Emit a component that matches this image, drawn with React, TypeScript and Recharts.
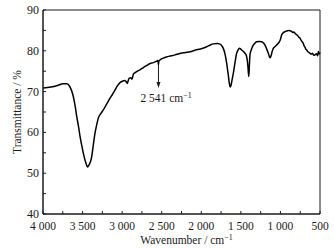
import React from 'react';
import { LineChart, Line, XAxis, YAxis, ReferenceArea, ReferenceLine, Label } from 'recharts';

// FT-IR spectrum
const wavenumbers = [
  4000, 3900, 3800, 3750, 3700, 3670, 3640, 3617, 3590, 3574, 3550, 3532, 3500, 3469, 3445, 3435,
  3420, 3400, 3385, 3365, 3343, 3320, 3301, 3270, 3238, 3200, 3153, 3120, 3090, 3060, 3027, 2990,
  2964, 2945, 2935, 2925, 2910, 2890, 2875, 2858, 2840, 2816, 2770, 2732, 2690, 2648, 2606, 2570,
  2550, 2545, 2541, 2537, 2520, 2480, 2440, 2395, 2330, 2280, 2227, 2160, 2101, 2050, 2000, 1932,
  1880, 1848, 1800, 1770, 1740, 1722, 1700, 1679, 1660, 1645, 1635, 1625, 1610, 1595, 1575, 1553,
  1535, 1519, 1505, 1490, 1470, 1448, 1430, 1419, 1410, 1400, 1392, 1385, 1376, 1360, 1343, 1320,
  1301, 1270, 1237, 1215, 1195, 1175, 1153, 1140, 1130, 1118, 1105, 1090, 1070, 1048, 1030, 1014,
  1000, 984, 965, 942, 910, 890, 879, 860, 845, 830, 816, 800, 785, 770, 753, 740,
  725, 711, 700, 690, 680, 668, 655, 640, 626, 610, 595, 580, 563, 545, 530, 521,
  510, 500,
];
const transmittance = [
  70.9, 71.1, 71.6, 71.9, 71.9, 71.5, 70.3, 68.8, 66.0, 63.9, 61.3, 59.0, 55.8, 53.2, 51.8, 51.5,
  52.0, 52.8, 54.0, 56.8, 59.8, 62.0, 63.5, 64.6, 65.5, 66.8, 68.4, 69.4, 70.4, 71.4, 72.2, 72.6,
  72.7, 72.3, 72.0, 72.6, 73.3, 73.4, 73.0, 74.3, 74.6, 74.9, 75.4, 75.9, 76.4, 76.9, 77.1, 77.4,
  77.6, 77.2, 76.6, 77.4, 77.8, 78.2, 78.5, 78.7, 79.0, 79.3, 79.5, 79.7, 80.0, 80.3, 80.5, 81.0,
  81.5, 81.7, 81.8, 81.7, 81.2, 80.6, 79.2, 76.9, 74.2, 72.0, 71.1, 71.5, 73.0, 74.5, 77.0, 79.4,
  80.2, 80.6, 80.5, 80.2, 79.9, 79.4, 78.8, 77.7, 76.0, 73.7, 76.5, 79.0, 79.8, 80.7, 81.4, 81.9,
  82.2, 82.3, 82.2, 81.9, 81.4, 80.5, 79.4, 78.6, 78.3, 78.8, 79.8, 80.6, 81.0, 81.4, 81.8, 82.2,
  82.8, 83.9, 84.4, 84.7, 84.9, 85.0, 84.9, 84.8, 84.5, 84.6, 84.3, 84.0, 83.8, 83.4, 83.1, 82.6,
  82.2, 81.8, 81.2, 80.9, 80.4, 80.2, 79.8, 79.6, 79.4, 79.2, 79.4, 78.9, 79.0, 79.3, 78.8, 79.8,
  79.2, 79.6,
];

const xTicks = [4000, 3750, 3500, 3250, 3000, 2750, 2500, 2250, 2000, 1750, 1500, 1250, 1000, 750, 500];
const yTicks = [40, 45, 50, 55, 60, 65, 70, 75, 80, 85, 90];

// annotated band
const markWavenumber = 2541;
const markFrom = 76.5;
const markTo = 70.9;
const markText = '2 541 cm';

const data = wavenumbers.map((w, i) => ({ w, t: transmittance[i] }));

const FONT = '"Liberation Serif", "Times New Roman", serif';
const INK = '#1a1a1a';

const fmtWave = (v: number) => (v >= 1000 ? `${Math.floor(v / 1000)} ${String(v % 1000).padStart(3, '0')}` : String(v));

const XTick = (props: any) => {
  const { x, y, payload } = props;
  const v = payload.value;
  const axisY = y - 6;
  return (
    <g>
      <line x1={x} y1={axisY} x2={x} y2={axisY - 3} stroke={INK} />
      {v % 500 === 0 && (
        <text x={x} y={axisY + 16} textAnchor="middle" fontFamily={FONT} fontSize={11.5} fill={INK}>
          {fmtWave(v)}
        </text>
      )}
    </g>
  );
};

const YTick = (props: any) => {
  const { x, y, payload } = props;
  const v = payload.value;
  const axisX = x + 4;
  return (
    <g>
      <line x1={axisX} y1={y} x2={axisX + 3} y2={y} stroke={INK} />
      {v % 10 === 0 && (
        <text x={axisX - 4} y={y + 4} textAnchor="end" fontFamily={FONT} fontSize={12} fill={INK}>
          {v}
        </text>
      )}
    </g>
  );
};

const Arrow = (props: any) => {
  const { x1, y1, x2, y2 } = props;
  return (
    <g>
      <line x1={x1} y1={y1} x2={x2} y2={y2 - 4} stroke={INK} strokeWidth={1} />
      <polygon points={`${x2 - 2},${y2 - 6} ${x2 + 2},${y2 - 6} ${x2},${y2}`} fill={INK} />
      <text x={x2 - 18} y={y2 + 14} fontFamily={FONT} fontSize={11.5} fill={INK}>
        {markText}
        <tspan dy={-4} fontSize={8}>−1</tspan>
      </text>
    </g>
  );
};

export default function App() {
  return (
    <div style={{ position: 'absolute', left: 0, top: 0, width: 334, height: 249, background: '#fff' }}>
      <LineChart width={334} height={249} data={data} margin={{ top: 10, right: 14, bottom: 0, left: 0 }}>
        <XAxis
          dataKey="w"
          type="number"
          domain={[500, 4000]}
          reversed
          ticks={xTicks}
          interval={0}
          tickSize={0}
          tickMargin={6}
          tickLine={false}
          tick={<XTick />}
          height={35}
          stroke={INK}
        >
          <Label
            content={({ viewBox }: any) => (
              <text x={viewBox.x + viewBox.width / 2 + 5} y={viewBox.y + 30} textAnchor="middle" fontFamily={FONT} fontSize={11.5} fill={INK}>
                Wavenumber / cm
                <tspan dy={-4} fontSize={8}>−1</tspan>
              </text>
            )}
          />
        </XAxis>
        <YAxis
          type="number"
          domain={[40, 90]}
          ticks={yTicks}
          interval={0}
          tickSize={0}
          tickMargin={4}
          tickLine={false}
          tick={<YTick />}
          width={43}
          stroke={INK}
        >
          <Label
            content={({ viewBox }: any) => {
              const cx = 17;
              const cy = viewBox.y + viewBox.height / 2;
              return (
                <text x={cx} y={cy} transform={`rotate(-90 ${cx} ${cy})`} textAnchor="middle" dominantBaseline="central" fontFamily={FONT} fontSize={11.5} fill={INK}>
                  Transmittance / %
                </text>
              );
            }}
          />
        </YAxis>
        <ReferenceArea x1={500} x2={4000} y1={40} y2={90} fill="none" stroke={INK} strokeWidth={1} />
        <Line
          type="monotone"
          dataKey="t"
          stroke="#000"
          strokeWidth={1.5}
          dot={false}
          isAnimationActive={false}
        />
        <ReferenceLine
          segment={[
            { x: markWavenumber, y: markFrom },
            { x: markWavenumber, y: markTo },
          ]}
          shape={<Arrow />}
        />
      </LineChart>
    </div>
  );
}
